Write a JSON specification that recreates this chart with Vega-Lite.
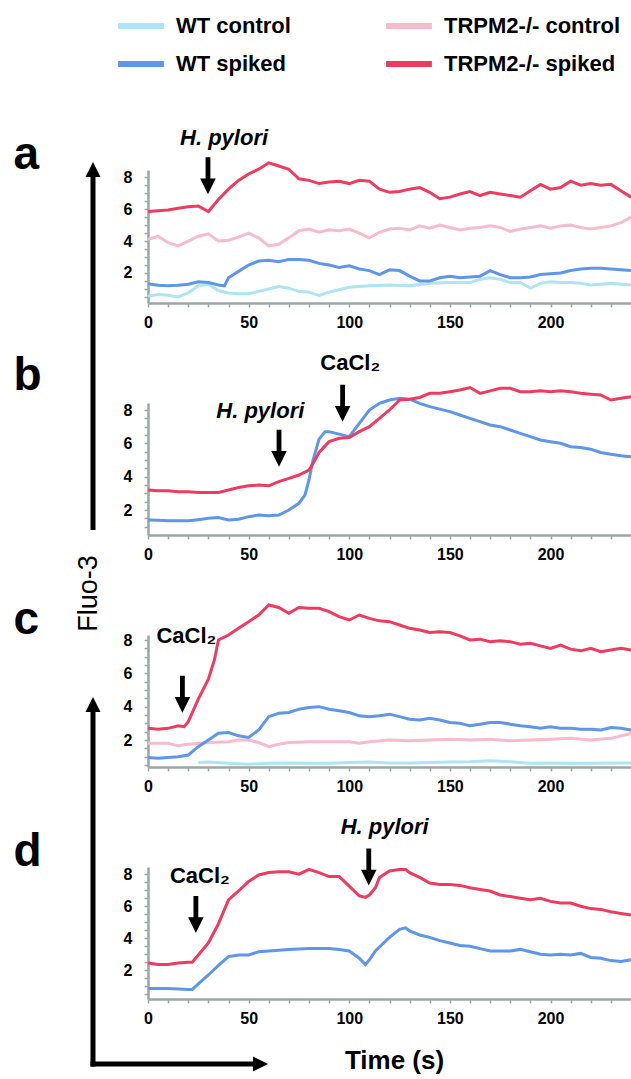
{
  "$schema": "https://vega.github.io/schema/vega-lite/v6.json",
  "padding": 0,
  "bounds": "flush",
  "spacing": 0,
  "config": {
    "font": "Liberation Sans",
    "view": {"stroke": null},
    "axis": {"grid": false, "domainColor": "#9da6a6", "domainWidth": 2.5, "tickColor": "#9da6a6", "tickWidth": 1.5, "tickSize": 4, "labelFont": "Liberation Sans", "labelFontSize": 16, "labelFontWeight": "bold", "labelColor": "#000", "labelOverlap": false, "labelFlush": false, "labelBound": false, "titleColor": "#000", "titleFont": "Liberation Sans"},
    "axisX": {"labelPadding": 7},
    "axisY": {"labelPadding": 12, "labelFontSize": 16, "titleAngle": 0, "titleFontSize": 46, "titleFontWeight": "bold", "titleX": -135, "titleY": -2, "titleAlign": "left", "titleBaseline": "alphabetic"}
  },
  "datasets": {
    "a": [
      {"s":"WT control","t":0,"v":0.55},{"s":"WT control","t":5,"v":0.65},{"s":"WT control","t":10,"v":0.6},{"s":"WT control","t":15,"v":0.5},{"s":"WT control","t":20,"v":0.75},{"s":"WT control","t":25,"v":1.2},{"s":"WT control","t":30,"v":1.3},{"s":"WT control","t":35,"v":0.9},{"s":"WT control","t":40,"v":0.75},{"s":"WT control","t":45,"v":0.7},{"s":"WT control","t":50,"v":0.7},{"s":"WT control","t":55,"v":0.85},{"s":"WT control","t":60,"v":1.0},{"s":"WT control","t":65,"v":1.15},{"s":"WT control","t":70,"v":1.05},{"s":"WT control","t":75,"v":0.85},{"s":"WT control","t":80,"v":0.8},{"s":"WT control","t":85,"v":0.6},{"s":"WT control","t":90,"v":0.8},{"s":"WT control","t":95,"v":0.95},{"s":"WT control","t":100,"v":1.1},{"s":"WT control","t":110,"v":1.2},{"s":"WT control","t":120,"v":1.25},{"s":"WT control","t":130,"v":1.2},{"s":"WT control","t":140,"v":1.35},{"s":"WT control","t":150,"v":1.4},{"s":"WT control","t":160,"v":1.4},{"s":"WT control","t":165,"v":1.6},{"s":"WT control","t":170,"v":1.7},{"s":"WT control","t":175,"v":1.6},{"s":"WT control","t":180,"v":1.4},{"s":"WT control","t":185,"v":1.4},{"s":"WT control","t":190,"v":1.05},{"s":"WT control","t":195,"v":1.35},{"s":"WT control","t":200,"v":1.45},{"s":"WT control","t":205,"v":1.4},{"s":"WT control","t":210,"v":1.4},{"s":"WT control","t":215,"v":1.35},{"s":"WT control","t":220,"v":1.25},{"s":"WT control","t":225,"v":1.3},{"s":"WT control","t":230,"v":1.35},{"s":"WT control","t":240,"v":1.25},
      {"s":"TRPM2-/- control","t":0,"v":4.1},{"s":"TRPM2-/- control","t":5,"v":4.3},{"s":"TRPM2-/- control","t":10,"v":3.9},{"s":"TRPM2-/- control","t":15,"v":3.7},{"s":"TRPM2-/- control","t":20,"v":4.0},{"s":"TRPM2-/- control","t":25,"v":4.3},{"s":"TRPM2-/- control","t":30,"v":4.45},{"s":"TRPM2-/- control","t":35,"v":4.0},{"s":"TRPM2-/- control","t":40,"v":4.05},{"s":"TRPM2-/- control","t":45,"v":4.25},{"s":"TRPM2-/- control","t":50,"v":4.5},{"s":"TRPM2-/- control","t":55,"v":4.2},{"s":"TRPM2-/- control","t":60,"v":3.7},{"s":"TRPM2-/- control","t":65,"v":3.8},{"s":"TRPM2-/- control","t":70,"v":4.2},{"s":"TRPM2-/- control","t":75,"v":4.65},{"s":"TRPM2-/- control","t":80,"v":4.75},{"s":"TRPM2-/- control","t":85,"v":4.55},{"s":"TRPM2-/- control","t":90,"v":4.7},{"s":"TRPM2-/- control","t":95,"v":4.65},{"s":"TRPM2-/- control","t":100,"v":4.75},{"s":"TRPM2-/- control","t":105,"v":4.5},{"s":"TRPM2-/- control","t":110,"v":4.2},{"s":"TRPM2-/- control","t":115,"v":4.55},{"s":"TRPM2-/- control","t":120,"v":4.75},{"s":"TRPM2-/- control","t":125,"v":4.8},{"s":"TRPM2-/- control","t":130,"v":4.7},{"s":"TRPM2-/- control","t":135,"v":4.95},{"s":"TRPM2-/- control","t":140,"v":4.8},{"s":"TRPM2-/- control","t":145,"v":5.0},{"s":"TRPM2-/- control","t":150,"v":4.85},{"s":"TRPM2-/- control","t":155,"v":4.7},{"s":"TRPM2-/- control","t":160,"v":4.8},{"s":"TRPM2-/- control","t":165,"v":4.85},{"s":"TRPM2-/- control","t":170,"v":4.95},{"s":"TRPM2-/- control","t":175,"v":4.85},{"s":"TRPM2-/- control","t":180,"v":4.6},{"s":"TRPM2-/- control","t":185,"v":4.75},{"s":"TRPM2-/- control","t":190,"v":4.85},{"s":"TRPM2-/- control","t":195,"v":4.95},{"s":"TRPM2-/- control","t":200,"v":4.8},{"s":"TRPM2-/- control","t":205,"v":4.95},{"s":"TRPM2-/- control","t":210,"v":5.0},{"s":"TRPM2-/- control","t":215,"v":4.85},{"s":"TRPM2-/- control","t":220,"v":4.75},{"s":"TRPM2-/- control","t":225,"v":4.85},{"s":"TRPM2-/- control","t":230,"v":4.95},{"s":"TRPM2-/- control","t":235,"v":5.15},{"s":"TRPM2-/- control","t":240,"v":5.5},
      {"s":"WT spiked","t":0,"v":1.33},{"s":"WT spiked","t":5,"v":1.23},{"s":"WT spiked","t":10,"v":1.2},{"s":"WT spiked","t":15,"v":1.23},{"s":"WT spiked","t":20,"v":1.3},{"s":"WT spiked","t":25,"v":1.45},{"s":"WT spiked","t":30,"v":1.4},{"s":"WT spiked","t":35,"v":1.25},{"s":"WT spiked","t":38,"v":1.2},{"s":"WT spiked","t":40,"v":1.7},{"s":"WT spiked","t":45,"v":2.1},{"s":"WT spiked","t":50,"v":2.5},{"s":"WT spiked","t":55,"v":2.75},{"s":"WT spiked","t":60,"v":2.8},{"s":"WT spiked","t":65,"v":2.7},{"s":"WT spiked","t":70,"v":2.85},{"s":"WT spiked","t":75,"v":2.85},{"s":"WT spiked","t":80,"v":2.8},{"s":"WT spiked","t":85,"v":2.6},{"s":"WT spiked","t":90,"v":2.5},{"s":"WT spiked","t":95,"v":2.35},{"s":"WT spiked","t":100,"v":2.45},{"s":"WT spiked","t":105,"v":2.25},{"s":"WT spiked","t":110,"v":2.15},{"s":"WT spiked","t":115,"v":1.9},{"s":"WT spiked","t":120,"v":2.2},{"s":"WT spiked","t":125,"v":2.15},{"s":"WT spiked","t":130,"v":1.8},{"s":"WT spiked","t":135,"v":1.5},{"s":"WT spiked","t":140,"v":1.5},{"s":"WT spiked","t":145,"v":1.7},{"s":"WT spiked","t":150,"v":1.8},{"s":"WT spiked","t":155,"v":1.7},{"s":"WT spiked","t":160,"v":1.75},{"s":"WT spiked","t":165,"v":1.8},{"s":"WT spiked","t":170,"v":2.15},{"s":"WT spiked","t":175,"v":1.9},{"s":"WT spiked","t":180,"v":1.7},{"s":"WT spiked","t":185,"v":1.7},{"s":"WT spiked","t":190,"v":1.75},{"s":"WT spiked","t":195,"v":1.9},{"s":"WT spiked","t":200,"v":1.95},{"s":"WT spiked","t":205,"v":2.0},{"s":"WT spiked","t":210,"v":2.15},{"s":"WT spiked","t":215,"v":2.25},{"s":"WT spiked","t":220,"v":2.3},{"s":"WT spiked","t":225,"v":2.3},{"s":"WT spiked","t":230,"v":2.25},{"s":"WT spiked","t":235,"v":2.2},{"s":"WT spiked","t":240,"v":2.15},
      {"s":"TRPM2-/- spiked","t":0,"v":5.85},{"s":"TRPM2-/- spiked","t":5,"v":5.9},{"s":"TRPM2-/- spiked","t":10,"v":5.95},{"s":"TRPM2-/- spiked","t":15,"v":6.05},{"s":"TRPM2-/- spiked","t":20,"v":6.15},{"s":"TRPM2-/- spiked","t":25,"v":6.2},{"s":"TRPM2-/- spiked","t":30,"v":5.85},{"s":"TRPM2-/- spiked","t":35,"v":6.6},{"s":"TRPM2-/- spiked","t":40,"v":7.25},{"s":"TRPM2-/- spiked","t":45,"v":7.8},{"s":"TRPM2-/- spiked","t":50,"v":8.2},{"s":"TRPM2-/- spiked","t":55,"v":8.5},{"s":"TRPM2-/- spiked","t":60,"v":8.9},{"s":"TRPM2-/- spiked","t":65,"v":8.7},{"s":"TRPM2-/- spiked","t":70,"v":8.5},{"s":"TRPM2-/- spiked","t":75,"v":7.9},{"s":"TRPM2-/- spiked","t":80,"v":7.8},{"s":"TRPM2-/- spiked","t":85,"v":7.6},{"s":"TRPM2-/- spiked","t":90,"v":7.7},{"s":"TRPM2-/- spiked","t":95,"v":7.75},{"s":"TRPM2-/- spiked","t":100,"v":7.6},{"s":"TRPM2-/- spiked","t":105,"v":7.8},{"s":"TRPM2-/- spiked","t":110,"v":7.75},{"s":"TRPM2-/- spiked","t":115,"v":7.25},{"s":"TRPM2-/- spiked","t":120,"v":7.05},{"s":"TRPM2-/- spiked","t":125,"v":7.1},{"s":"TRPM2-/- spiked","t":130,"v":7.25},{"s":"TRPM2-/- spiked","t":135,"v":7.35},{"s":"TRPM2-/- spiked","t":140,"v":7.05},{"s":"TRPM2-/- spiked","t":145,"v":6.65},{"s":"TRPM2-/- spiked","t":150,"v":6.75},{"s":"TRPM2-/- spiked","t":155,"v":6.95},{"s":"TRPM2-/- spiked","t":160,"v":7.1},{"s":"TRPM2-/- spiked","t":165,"v":6.85},{"s":"TRPM2-/- spiked","t":170,"v":7.05},{"s":"TRPM2-/- spiked","t":175,"v":6.95},{"s":"TRPM2-/- spiked","t":180,"v":6.85},{"s":"TRPM2-/- spiked","t":185,"v":6.75},{"s":"TRPM2-/- spiked","t":190,"v":7.15},{"s":"TRPM2-/- spiked","t":195,"v":7.55},{"s":"TRPM2-/- spiked","t":200,"v":7.25},{"s":"TRPM2-/- spiked","t":205,"v":7.35},{"s":"TRPM2-/- spiked","t":210,"v":7.75},{"s":"TRPM2-/- spiked","t":215,"v":7.5},{"s":"TRPM2-/- spiked","t":220,"v":7.6},{"s":"TRPM2-/- spiked","t":225,"v":7.5},{"s":"TRPM2-/- spiked","t":230,"v":7.55},{"s":"TRPM2-/- spiked","t":235,"v":7.15},{"s":"TRPM2-/- spiked","t":240,"v":6.75}
    ],
    "b": [
      {"s":"WT spiked","t":0,"v":1.4},{"s":"WT spiked","t":5,"v":1.38},{"s":"WT spiked","t":10,"v":1.35},{"s":"WT spiked","t":15,"v":1.35},{"s":"WT spiked","t":20,"v":1.35},{"s":"WT spiked","t":25,"v":1.42},{"s":"WT spiked","t":30,"v":1.5},{"s":"WT spiked","t":35,"v":1.55},{"s":"WT spiked","t":40,"v":1.4},{"s":"WT spiked","t":45,"v":1.45},{"s":"WT spiked","t":50,"v":1.6},{"s":"WT spiked","t":55,"v":1.7},{"s":"WT spiked","t":60,"v":1.65},{"s":"WT spiked","t":65,"v":1.7},{"s":"WT spiked","t":70,"v":2.0},{"s":"WT spiked","t":75,"v":2.4},{"s":"WT spiked","t":78,"v":2.9},{"s":"WT spiked","t":80,"v":3.8},{"s":"WT spiked","t":82,"v":5.0},{"s":"WT spiked","t":85,"v":6.25},{"s":"WT spiked","t":88,"v":6.7},{"s":"WT spiked","t":90,"v":6.7},{"s":"WT spiked","t":95,"v":6.55},{"s":"WT spiked","t":100,"v":6.4},{"s":"WT spiked","t":105,"v":7.2},{"s":"WT spiked","t":110,"v":8.0},{"s":"WT spiked","t":115,"v":8.4},{"s":"WT spiked","t":120,"v":8.6},{"s":"WT spiked","t":125,"v":8.7},{"s":"WT spiked","t":130,"v":8.65},{"s":"WT spiked","t":135,"v":8.4},{"s":"WT spiked","t":140,"v":8.2},{"s":"WT spiked","t":145,"v":8.05},{"s":"WT spiked","t":150,"v":7.9},{"s":"WT spiked","t":155,"v":7.7},{"s":"WT spiked","t":160,"v":7.5},{"s":"WT spiked","t":165,"v":7.3},{"s":"WT spiked","t":170,"v":7.1},{"s":"WT spiked","t":175,"v":7.0},{"s":"WT spiked","t":180,"v":6.8},{"s":"WT spiked","t":185,"v":6.6},{"s":"WT spiked","t":190,"v":6.4},{"s":"WT spiked","t":195,"v":6.2},{"s":"WT spiked","t":200,"v":6.1},{"s":"WT spiked","t":205,"v":6.0},{"s":"WT spiked","t":210,"v":5.8},{"s":"WT spiked","t":215,"v":5.75},{"s":"WT spiked","t":220,"v":5.65},{"s":"WT spiked","t":225,"v":5.45},{"s":"WT spiked","t":230,"v":5.35},{"s":"WT spiked","t":235,"v":5.25},{"s":"WT spiked","t":240,"v":5.2},
      {"s":"TRPM2-/- spiked","t":0,"v":3.2},{"s":"TRPM2-/- spiked","t":5,"v":3.15},{"s":"TRPM2-/- spiked","t":10,"v":3.15},{"s":"TRPM2-/- spiked","t":15,"v":3.1},{"s":"TRPM2-/- spiked","t":20,"v":3.1},{"s":"TRPM2-/- spiked","t":25,"v":3.05},{"s":"TRPM2-/- spiked","t":30,"v":3.05},{"s":"TRPM2-/- spiked","t":35,"v":3.05},{"s":"TRPM2-/- spiked","t":40,"v":3.2},{"s":"TRPM2-/- spiked","t":45,"v":3.35},{"s":"TRPM2-/- spiked","t":50,"v":3.45},{"s":"TRPM2-/- spiked","t":55,"v":3.5},{"s":"TRPM2-/- spiked","t":60,"v":3.45},{"s":"TRPM2-/- spiked","t":65,"v":3.7},{"s":"TRPM2-/- spiked","t":70,"v":3.9},{"s":"TRPM2-/- spiked","t":75,"v":4.1},{"s":"TRPM2-/- spiked","t":80,"v":4.4},{"s":"TRPM2-/- spiked","t":83,"v":5.0},{"s":"TRPM2-/- spiked","t":85,"v":5.45},{"s":"TRPM2-/- spiked","t":90,"v":6.1},{"s":"TRPM2-/- spiked","t":95,"v":6.3},{"s":"TRPM2-/- spiked","t":100,"v":6.35},{"s":"TRPM2-/- spiked","t":105,"v":6.7},{"s":"TRPM2-/- spiked","t":110,"v":7.0},{"s":"TRPM2-/- spiked","t":115,"v":7.5},{"s":"TRPM2-/- spiked","t":120,"v":8.0},{"s":"TRPM2-/- spiked","t":125,"v":8.6},{"s":"TRPM2-/- spiked","t":130,"v":8.65},{"s":"TRPM2-/- spiked","t":135,"v":8.75},{"s":"TRPM2-/- spiked","t":140,"v":9.0},{"s":"TRPM2-/- spiked","t":145,"v":9.0},{"s":"TRPM2-/- spiked","t":150,"v":9.1},{"s":"TRPM2-/- spiked","t":155,"v":9.2},{"s":"TRPM2-/- spiked","t":160,"v":9.35},{"s":"TRPM2-/- spiked","t":165,"v":9.0},{"s":"TRPM2-/- spiked","t":170,"v":9.15},{"s":"TRPM2-/- spiked","t":175,"v":9.3},{"s":"TRPM2-/- spiked","t":180,"v":9.3},{"s":"TRPM2-/- spiked","t":185,"v":9.1},{"s":"TRPM2-/- spiked","t":190,"v":9.1},{"s":"TRPM2-/- spiked","t":195,"v":9.15},{"s":"TRPM2-/- spiked","t":200,"v":9.1},{"s":"TRPM2-/- spiked","t":205,"v":9.15},{"s":"TRPM2-/- spiked","t":210,"v":9.1},{"s":"TRPM2-/- spiked","t":215,"v":9.0},{"s":"TRPM2-/- spiked","t":220,"v":8.95},{"s":"TRPM2-/- spiked","t":225,"v":8.9},{"s":"TRPM2-/- spiked","t":230,"v":8.6},{"s":"TRPM2-/- spiked","t":235,"v":8.7},{"s":"TRPM2-/- spiked","t":240,"v":8.8}
    ],
    "c": [
      {"s":"WT control","t":25,"v":0.65},{"s":"WT control","t":30,"v":0.68},{"s":"WT control","t":40,"v":0.6},{"s":"WT control","t":50,"v":0.55},{"s":"WT control","t":60,"v":0.6},{"s":"WT control","t":70,"v":0.62},{"s":"WT control","t":80,"v":0.6},{"s":"WT control","t":90,"v":0.6},{"s":"WT control","t":100,"v":0.65},{"s":"WT control","t":110,"v":0.68},{"s":"WT control","t":120,"v":0.62},{"s":"WT control","t":130,"v":0.62},{"s":"WT control","t":140,"v":0.65},{"s":"WT control","t":150,"v":0.68},{"s":"WT control","t":160,"v":0.7},{"s":"WT control","t":170,"v":0.75},{"s":"WT control","t":180,"v":0.7},{"s":"WT control","t":190,"v":0.6},{"s":"WT control","t":200,"v":0.62},{"s":"WT control","t":210,"v":0.6},{"s":"WT control","t":220,"v":0.6},{"s":"WT control","t":230,"v":0.62},{"s":"WT control","t":240,"v":0.62},
      {"s":"TRPM2-/- control","t":0,"v":1.8},{"s":"TRPM2-/- control","t":10,"v":1.8},{"s":"TRPM2-/- control","t":15,"v":1.65},{"s":"TRPM2-/- control","t":20,"v":1.75},{"s":"TRPM2-/- control","t":30,"v":1.85},{"s":"TRPM2-/- control","t":40,"v":1.9},{"s":"TRPM2-/- control","t":45,"v":2.0},{"s":"TRPM2-/- control","t":50,"v":2.0},{"s":"TRPM2-/- control","t":55,"v":1.85},{"s":"TRPM2-/- control","t":60,"v":1.6},{"s":"TRPM2-/- control","t":65,"v":1.75},{"s":"TRPM2-/- control","t":70,"v":1.85},{"s":"TRPM2-/- control","t":80,"v":1.9},{"s":"TRPM2-/- control","t":90,"v":1.9},{"s":"TRPM2-/- control","t":100,"v":1.9},{"s":"TRPM2-/- control","t":105,"v":1.8},{"s":"TRPM2-/- control","t":110,"v":1.9},{"s":"TRPM2-/- control","t":120,"v":2.0},{"s":"TRPM2-/- control","t":130,"v":1.95},{"s":"TRPM2-/- control","t":140,"v":2.0},{"s":"TRPM2-/- control","t":150,"v":2.05},{"s":"TRPM2-/- control","t":160,"v":2.0},{"s":"TRPM2-/- control","t":170,"v":2.05},{"s":"TRPM2-/- control","t":180,"v":1.95},{"s":"TRPM2-/- control","t":190,"v":2.0},{"s":"TRPM2-/- control","t":200,"v":2.05},{"s":"TRPM2-/- control","t":210,"v":2.1},{"s":"TRPM2-/- control","t":220,"v":2.0},{"s":"TRPM2-/- control","t":230,"v":2.1},{"s":"TRPM2-/- control","t":240,"v":2.4},
      {"s":"WT spiked","t":0,"v":0.95},{"s":"WT spiked","t":5,"v":0.9},{"s":"WT spiked","t":10,"v":0.95},{"s":"WT spiked","t":15,"v":1.0},{"s":"WT spiked","t":20,"v":1.1},{"s":"WT spiked","t":25,"v":1.6},{"s":"WT spiked","t":30,"v":2.0},{"s":"WT spiked","t":35,"v":2.4},{"s":"WT spiked","t":40,"v":2.45},{"s":"WT spiked","t":45,"v":2.25},{"s":"WT spiked","t":50,"v":2.15},{"s":"WT spiked","t":55,"v":2.6},{"s":"WT spiked","t":60,"v":3.4},{"s":"WT spiked","t":65,"v":3.6},{"s":"WT spiked","t":70,"v":3.65},{"s":"WT spiked","t":75,"v":3.85},{"s":"WT spiked","t":80,"v":3.95},{"s":"WT spiked","t":85,"v":4.0},{"s":"WT spiked","t":90,"v":3.85},{"s":"WT spiked","t":95,"v":3.75},{"s":"WT spiked","t":100,"v":3.65},{"s":"WT spiked","t":105,"v":3.45},{"s":"WT spiked","t":110,"v":3.4},{"s":"WT spiked","t":115,"v":3.45},{"s":"WT spiked","t":120,"v":3.55},{"s":"WT spiked","t":125,"v":3.4},{"s":"WT spiked","t":130,"v":3.25},{"s":"WT spiked","t":135,"v":3.2},{"s":"WT spiked","t":140,"v":3.3},{"s":"WT spiked","t":145,"v":3.2},{"s":"WT spiked","t":150,"v":3.05},{"s":"WT spiked","t":155,"v":3.0},{"s":"WT spiked","t":160,"v":2.85},{"s":"WT spiked","t":165,"v":2.95},{"s":"WT spiked","t":170,"v":3.05},{"s":"WT spiked","t":175,"v":3.05},{"s":"WT spiked","t":180,"v":2.95},{"s":"WT spiked","t":185,"v":2.85},{"s":"WT spiked","t":190,"v":2.8},{"s":"WT spiked","t":195,"v":2.7},{"s":"WT spiked","t":200,"v":2.8},{"s":"WT spiked","t":205,"v":2.7},{"s":"WT spiked","t":210,"v":2.7},{"s":"WT spiked","t":215,"v":2.65},{"s":"WT spiked","t":220,"v":2.65},{"s":"WT spiked","t":225,"v":2.6},{"s":"WT spiked","t":230,"v":2.75},{"s":"WT spiked","t":235,"v":2.7},{"s":"WT spiked","t":240,"v":2.6},
      {"s":"TRPM2-/- spiked","t":0,"v":2.7},{"s":"TRPM2-/- spiked","t":5,"v":2.65},{"s":"TRPM2-/- spiked","t":10,"v":2.7},{"s":"TRPM2-/- spiked","t":15,"v":2.85},{"s":"TRPM2-/- spiked","t":18,"v":2.8},{"s":"TRPM2-/- spiked","t":20,"v":3.1},{"s":"TRPM2-/- spiked","t":25,"v":4.45},{"s":"TRPM2-/- spiked","t":30,"v":5.65},{"s":"TRPM2-/- spiked","t":33,"v":6.8},{"s":"TRPM2-/- spiked","t":35,"v":8.0},{"s":"TRPM2-/- spiked","t":40,"v":8.3},{"s":"TRPM2-/- spiked","t":45,"v":8.7},{"s":"TRPM2-/- spiked","t":50,"v":9.1},{"s":"TRPM2-/- spiked","t":55,"v":9.5},{"s":"TRPM2-/- spiked","t":60,"v":10.1},{"s":"TRPM2-/- spiked","t":65,"v":9.95},{"s":"TRPM2-/- spiked","t":70,"v":9.6},{"s":"TRPM2-/- spiked","t":75,"v":9.95},{"s":"TRPM2-/- spiked","t":80,"v":9.9},{"s":"TRPM2-/- spiked","t":85,"v":9.9},{"s":"TRPM2-/- spiked","t":90,"v":9.7},{"s":"TRPM2-/- spiked","t":95,"v":9.4},{"s":"TRPM2-/- spiked","t":100,"v":9.2},{"s":"TRPM2-/- spiked","t":105,"v":9.5},{"s":"TRPM2-/- spiked","t":110,"v":9.3},{"s":"TRPM2-/- spiked","t":115,"v":9.15},{"s":"TRPM2-/- spiked","t":120,"v":9.1},{"s":"TRPM2-/- spiked","t":125,"v":8.9},{"s":"TRPM2-/- spiked","t":130,"v":8.7},{"s":"TRPM2-/- spiked","t":135,"v":8.6},{"s":"TRPM2-/- spiked","t":140,"v":8.45},{"s":"TRPM2-/- spiked","t":145,"v":8.5},{"s":"TRPM2-/- spiked","t":150,"v":8.45},{"s":"TRPM2-/- spiked","t":155,"v":8.25},{"s":"TRPM2-/- spiked","t":160,"v":8.0},{"s":"TRPM2-/- spiked","t":165,"v":8.05},{"s":"TRPM2-/- spiked","t":170,"v":7.9},{"s":"TRPM2-/- spiked","t":175,"v":7.95},{"s":"TRPM2-/- spiked","t":180,"v":7.9},{"s":"TRPM2-/- spiked","t":185,"v":7.75},{"s":"TRPM2-/- spiked","t":190,"v":7.8},{"s":"TRPM2-/- spiked","t":195,"v":7.65},{"s":"TRPM2-/- spiked","t":200,"v":7.5},{"s":"TRPM2-/- spiked","t":205,"v":7.7},{"s":"TRPM2-/- spiked","t":210,"v":7.45},{"s":"TRPM2-/- spiked","t":215,"v":7.35},{"s":"TRPM2-/- spiked","t":220,"v":7.5},{"s":"TRPM2-/- spiked","t":225,"v":7.3},{"s":"TRPM2-/- spiked","t":230,"v":7.4},{"s":"TRPM2-/- spiked","t":235,"v":7.5},{"s":"TRPM2-/- spiked","t":240,"v":7.4}
    ],
    "d": [
      {"s":"WT spiked","t":0,"v":0.85},{"s":"WT spiked","t":10,"v":0.85},{"s":"WT spiked","t":20,"v":0.8},{"s":"WT spiked","t":22,"v":0.8},{"s":"WT spiked","t":25,"v":1.15},{"s":"WT spiked","t":30,"v":1.7},{"s":"WT spiked","t":35,"v":2.3},{"s":"WT spiked","t":40,"v":2.85},{"s":"WT spiked","t":45,"v":2.95},{"s":"WT spiked","t":50,"v":2.95},{"s":"WT spiked","t":55,"v":3.15},{"s":"WT spiked","t":60,"v":3.2},{"s":"WT spiked","t":70,"v":3.3},{"s":"WT spiked","t":80,"v":3.35},{"s":"WT spiked","t":90,"v":3.35},{"s":"WT spiked","t":95,"v":3.3},{"s":"WT spiked","t":100,"v":3.2},{"s":"WT spiked","t":105,"v":2.75},{"s":"WT spiked","t":108,"v":2.35},{"s":"WT spiked","t":110,"v":2.65},{"s":"WT spiked","t":113,"v":3.2},{"s":"WT spiked","t":120,"v":4.05},{"s":"WT spiked","t":125,"v":4.55},{"s":"WT spiked","t":128,"v":4.65},{"s":"WT spiked","t":130,"v":4.45},{"s":"WT spiked","t":135,"v":4.2},{"s":"WT spiked","t":140,"v":4.05},{"s":"WT spiked","t":145,"v":3.85},{"s":"WT spiked","t":150,"v":3.7},{"s":"WT spiked","t":155,"v":3.55},{"s":"WT spiked","t":160,"v":3.5},{"s":"WT spiked","t":165,"v":3.35},{"s":"WT spiked","t":170,"v":3.2},{"s":"WT spiked","t":175,"v":3.2},{"s":"WT spiked","t":180,"v":3.2},{"s":"WT spiked","t":185,"v":3.3},{"s":"WT spiked","t":190,"v":3.15},{"s":"WT spiked","t":195,"v":3.0},{"s":"WT spiked","t":200,"v":2.95},{"s":"WT spiked","t":205,"v":3.0},{"s":"WT spiked","t":210,"v":2.95},{"s":"WT spiked","t":215,"v":3.05},{"s":"WT spiked","t":220,"v":2.8},{"s":"WT spiked","t":225,"v":2.75},{"s":"WT spiked","t":230,"v":2.6},{"s":"WT spiked","t":235,"v":2.55},{"s":"WT spiked","t":240,"v":2.65},
      {"s":"TRPM2-/- spiked","t":0,"v":2.45},{"s":"TRPM2-/- spiked","t":5,"v":2.35},{"s":"TRPM2-/- spiked","t":10,"v":2.35},{"s":"TRPM2-/- spiked","t":15,"v":2.45},{"s":"TRPM2-/- spiked","t":20,"v":2.5},{"s":"TRPM2-/- spiked","t":22,"v":2.5},{"s":"TRPM2-/- spiked","t":25,"v":2.95},{"s":"TRPM2-/- spiked","t":30,"v":3.7},{"s":"TRPM2-/- spiked","t":35,"v":4.9},{"s":"TRPM2-/- spiked","t":40,"v":6.4},{"s":"TRPM2-/- spiked","t":45,"v":6.95},{"s":"TRPM2-/- spiked","t":50,"v":7.55},{"s":"TRPM2-/- spiked","t":55,"v":7.95},{"s":"TRPM2-/- spiked","t":60,"v":8.1},{"s":"TRPM2-/- spiked","t":65,"v":8.15},{"s":"TRPM2-/- spiked","t":70,"v":8.15},{"s":"TRPM2-/- spiked","t":75,"v":8.0},{"s":"TRPM2-/- spiked","t":80,"v":8.3},{"s":"TRPM2-/- spiked","t":85,"v":8.1},{"s":"TRPM2-/- spiked","t":90,"v":7.85},{"s":"TRPM2-/- spiked","t":95,"v":7.85},{"s":"TRPM2-/- spiked","t":100,"v":7.25},{"s":"TRPM2-/- spiked","t":105,"v":6.65},{"s":"TRPM2-/- spiked","t":108,"v":6.55},{"s":"TRPM2-/- spiked","t":110,"v":6.7},{"s":"TRPM2-/- spiked","t":113,"v":7.15},{"s":"TRPM2-/- spiked","t":115,"v":7.8},{"s":"TRPM2-/- spiked","t":120,"v":8.2},{"s":"TRPM2-/- spiked","t":125,"v":8.3},{"s":"TRPM2-/- spiked","t":128,"v":8.3},{"s":"TRPM2-/- spiked","t":130,"v":8.1},{"s":"TRPM2-/- spiked","t":135,"v":7.8},{"s":"TRPM2-/- spiked","t":140,"v":7.45},{"s":"TRPM2-/- spiked","t":145,"v":7.35},{"s":"TRPM2-/- spiked","t":150,"v":7.35},{"s":"TRPM2-/- spiked","t":155,"v":7.3},{"s":"TRPM2-/- spiked","t":160,"v":7.15},{"s":"TRPM2-/- spiked","t":165,"v":7.05},{"s":"TRPM2-/- spiked","t":170,"v":6.95},{"s":"TRPM2-/- spiked","t":175,"v":6.7},{"s":"TRPM2-/- spiked","t":180,"v":6.6},{"s":"TRPM2-/- spiked","t":185,"v":6.5},{"s":"TRPM2-/- spiked","t":190,"v":6.4},{"s":"TRPM2-/- spiked","t":195,"v":6.5},{"s":"TRPM2-/- spiked","t":200,"v":6.3},{"s":"TRPM2-/- spiked","t":205,"v":6.2},{"s":"TRPM2-/- spiked","t":210,"v":6.2},{"s":"TRPM2-/- spiked","t":215,"v":6.0},{"s":"TRPM2-/- spiked","t":220,"v":5.85},{"s":"TRPM2-/- spiked","t":225,"v":5.8},{"s":"TRPM2-/- spiked","t":230,"v":5.65},{"s":"TRPM2-/- spiked","t":235,"v":5.55},{"s":"TRPM2-/- spiked","t":240,"v":5.45}
    ],
    "arrows": [
      {"panel":"a","t":29.8,"v":8.09},
      {"panel":"b","t":65.1,"v":5.71},
      {"panel":"b","t":96.7,"v":8.4},
      {"panel":"c","t":17.1,"v":4.74},
      {"panel":"d","t":23.8,"v":5.48},
      {"panel":"d","t":109.7,"v":8.45}
    ],
    "hp": [
      {"panel":"a","t":37.8,"v":10.0,"label":"H. pylori"},
      {"panel":"b","t":55.8,"v":7.54,"label":"H. pylori"},
      {"panel":"d","t":117.6,"v":10.51,"label":"H. pylori"}
    ],
    "ca": [
      {"panel":"b","t":100.5,"v":10.38,"label":"CaCl₂"},
      {"panel":"c","t":19.1,"v":7.84,"label":"CaCl₂"},
      {"panel":"d","t":25.8,"v":7.45,"label":"CaCl₂"}
    ]
  },
  "hconcat": [
    {
      "width": 148,
      "height": 1079,
      "data": {"values": [{}]},
      "layer": [
        {"mark": {"type": "rule", "strokeWidth": 5, "color": "black"},
         "encoding": {
           "x": {"datum": 93, "type": "quantitative", "scale": {"domain": [0, 148], "nice": false, "zero": false}, "axis": null},
           "y": {"datum": 176, "type": "quantitative", "scale": {"domain": [0, 1079], "reverse": true, "nice": false, "zero": false}, "axis": null},
           "y2": {"datum": 530}}},
        {"mark": {"type": "rule", "strokeWidth": 5, "color": "black"},
         "encoding": {
           "x": {"datum": 93, "type": "quantitative", "scale": {"domain": [0, 148], "nice": false, "zero": false}, "axis": null},
           "y": {"datum": 711, "type": "quantitative", "scale": {"domain": [0, 1079], "reverse": true, "nice": false, "zero": false}, "axis": null},
           "y2": {"datum": 1066.5}}},
        {"mark": {"type": "rule", "strokeWidth": 5, "color": "black"},
         "encoding": {
           "x": {"datum": 90.5, "type": "quantitative", "scale": {"domain": [0, 148], "nice": false, "zero": false}, "axis": null},
           "x2": {"datum": 256},
           "y": {"datum": 1064, "type": "quantitative", "scale": {"domain": [0, 1079], "reverse": true, "nice": false, "zero": false}, "axis": null}}},
        {"mark": {"type": "point", "shape": "M0,-1L1,1L-1,1Z", "filled": true, "fill": "black", "opacity": 1, "size": 225, "strokeWidth": 0},
         "encoding": {
           "x": {"datum": 93, "type": "quantitative", "scale": {"domain": [0, 148], "nice": false, "zero": false}, "axis": null},
           "y": {"datum": 169.5, "type": "quantitative", "scale": {"domain": [0, 1079], "reverse": true, "nice": false, "zero": false}, "axis": null}}},
        {"mark": {"type": "point", "shape": "M0,-1L1,1L-1,1Z", "filled": true, "fill": "black", "opacity": 1, "size": 225, "strokeWidth": 0},
         "encoding": {
           "x": {"datum": 93, "type": "quantitative", "scale": {"domain": [0, 148], "nice": false, "zero": false}, "axis": null},
           "y": {"datum": 704.5, "type": "quantitative", "scale": {"domain": [0, 1079], "reverse": true, "nice": false, "zero": false}, "axis": null}}},
        {"mark": {"type": "point", "shape": "M1,0L-1,-1L-1,1Z", "filled": true, "fill": "black", "opacity": 1, "size": 225, "strokeWidth": 0},
         "encoding": {
           "x": {"datum": 260.5, "type": "quantitative", "scale": {"domain": [0, 148], "nice": false, "zero": false}, "axis": null},
           "y": {"datum": 1064, "type": "quantitative", "scale": {"domain": [0, 1079], "reverse": true, "nice": false, "zero": false}, "axis": null}}}
      ]
    },
    {
      "spacing": 100,
      "bounds": "flush",
      "vconcat": [
        {"width": 483, "height": 70, "data": {"values": []}, "mark": "point"},
        {
          "width": 483, "height": 133,
          "encoding": {
            "x": {"field": "t", "type": "quantitative", "scale": {"domain": [0, 240], "nice": false, "zero": false},
                  "axis": {"title": null, "values": [0,10,20,30,40,50,60,70,80,90,100,110,120,130,140,150,160,170,180,190,200,210,220,230,240], "labelExpr": "datum.value % 50 === 0 ? datum.label : ''"}},
            "y": {"field": "v", "type": "quantitative", "scale": {"domain": [0.12, 8.45], "nice": false, "zero": false},
                  "axis": {"title": "a", "values": [0.5,1,1.5,2,2.5,3,3.5,4,4.5,5,5.5,6,6.5,7,7.5,8], "labelExpr": "datum.value % 2 === 0 ? '' + datum.value : ''"}}
          },
          "layer": [
            {"data": {"name": "a"}, "mark": {"type": "line", "strokeWidth": 3},
             "encoding": {"color": {"field": "s", "type": "nominal",
               "scale": {"domain": ["WT control", "WT spiked", "TRPM2-/- control", "TRPM2-/- spiked"], "range": ["#aee4f4", "#5e96e8", "#f6bccb", "#ee3b60"]},
               "legend": {"title": null, "orient": "none", "legendX": 115, "legendY": 0, "columns": 2, "symbolType": "stroke", "symbolSize": 2100, "symbolStrokeWidth": 6, "labelFontSize": 22, "labelFontWeight": "bold", "labelColor": "black", "labelOffset": 9, "columnPadding": 83, "rowPadding": -6, "labelLimit": 400, "padding": 0}}}},
            {"data": {"name": "arrows"}, "transform": [{"filter": "datum.panel === 'a'"}],
             "mark": {"type": "point", "shape": "M-0.13,-1L0.13,-1L0.13,0.15L0.42,0.15L0,1L-0.42,0.15L-0.13,0.15Z", "filled": true, "fill": "black", "opacity": 1, "size": 1369, "strokeWidth": 0}},
            {"data": {"name": "hp"}, "transform": [{"filter": "datum.panel === 'a'"}],
             "mark": {"type": "text", "fontSize": 22, "fontWeight": "bold", "fontStyle": "italic", "align": "center", "baseline": "alphabetic", "color": "black"},
             "encoding": {"text": {"field": "label"}}}
          ]
        },
        {
          "width": 483, "height": 132,
          "encoding": {
            "x": {"field": "t", "type": "quantitative", "scale": {"domain": [0, 240], "nice": false, "zero": false},
                  "axis": {"title": "Fluo-3", "titleAngle": 270, "titleX": -60, "titleY": 58, "titleFontSize": 27, "titleFontWeight": "normal", "titleAlign": "center", "titleBaseline": "middle", "values": [0,10,20,30,40,50,60,70,80,90,100,110,120,130,140,150,160,170,180,190,200,210,220,230,240], "labelExpr": "datum.value % 50 === 0 ? datum.label : ''"}},
            "y": {"field": "v", "type": "quantitative", "scale": {"domain": [0.5, 8.42], "nice": false, "zero": false},
                  "axis": {"title": "b", "titleY": -14, "values": [1,1.5,2,2.5,3,3.5,4,4.5,5,5.5,6,6.5,7,7.5,8], "labelExpr": "datum.value % 2 === 0 ? '' + datum.value : ''"}}
          },
          "layer": [
            {"data": {"name": "b"}, "mark": {"type": "line", "strokeWidth": 3},
             "encoding": {"color": {"field": "s", "type": "nominal",
               "scale": {"domain": ["WT control", "WT spiked", "TRPM2-/- control", "TRPM2-/- spiked"], "range": ["#aee4f4", "#5e96e8", "#f6bccb", "#ee3b60"]}}}},
            {"data": {"name": "arrows"}, "transform": [{"filter": "datum.panel === 'b'"}],
             "mark": {"type": "point", "shape": "M-0.13,-1L0.13,-1L0.13,0.15L0.42,0.15L0,1L-0.42,0.15L-0.13,0.15Z", "filled": true, "fill": "black", "opacity": 1, "size": 1369, "strokeWidth": 0}},
            {"data": {"name": "hp"}, "transform": [{"filter": "datum.panel === 'b'"}],
             "mark": {"type": "text", "fontSize": 22, "fontWeight": "bold", "fontStyle": "italic", "align": "center", "baseline": "alphabetic", "color": "black"},
             "encoding": {"text": {"field": "label"}}},
            {"data": {"name": "ca"}, "transform": [{"filter": "datum.panel === 'b'"}],
             "mark": {"type": "text", "fontSize": 22, "fontWeight": "bold", "align": "center", "baseline": "alphabetic", "color": "black"},
             "encoding": {"text": {"field": "label"}}}
          ]
        },
        {
          "width": 483, "height": 132,
          "encoding": {
            "x": {"field": "t", "type": "quantitative", "scale": {"domain": [0, 240], "nice": false, "zero": false},
                  "axis": {"title": null, "values": [0,10,20,30,40,50,60,70,80,90,100,110,120,130,140,150,160,170,180,190,200,210,220,230,240], "labelExpr": "datum.value % 50 === 0 ? datum.label : ''"}},
            "y": {"field": "v", "type": "quantitative", "scale": {"domain": [0.38, 8.3], "nice": false, "zero": false},
                  "axis": {"title": "c", "values": [0.5,1,1.5,2,2.5,3,3.5,4,4.5,5,5.5,6,6.5,7,7.5,8], "labelExpr": "datum.value % 2 === 0 ? '' + datum.value : ''"}}
          },
          "layer": [
            {"data": {"name": "c"}, "mark": {"type": "line", "strokeWidth": 3},
             "encoding": {"color": {"field": "s", "type": "nominal",
               "scale": {"domain": ["WT control", "WT spiked", "TRPM2-/- control", "TRPM2-/- spiked"], "range": ["#aee4f4", "#5e96e8", "#f6bccb", "#ee3b60"]}}}},
            {"data": {"name": "arrows"}, "transform": [{"filter": "datum.panel === 'c'"}],
             "mark": {"type": "point", "shape": "M-0.13,-1L0.13,-1L0.13,0.15L0.42,0.15L0,1L-0.42,0.15L-0.13,0.15Z", "filled": true, "fill": "black", "opacity": 1, "size": 1369, "strokeWidth": 0}},
            {"data": {"name": "ca"}, "transform": [{"filter": "datum.panel === 'c'"}],
             "mark": {"type": "text", "fontSize": 22, "fontWeight": "bold", "align": "center", "baseline": "alphabetic", "color": "black"},
             "encoding": {"text": {"field": "label"}}}
          ]
        },
        {
          "width": 483, "height": 132,
          "encoding": {
            "x": {"field": "t", "type": "quantitative", "scale": {"domain": [0, 240], "nice": false, "zero": false},
                  "axis": {"title": "Time (s)", "titleFontSize": 26, "titleFontWeight": "bold", "titleX": 246, "titleY": 61, "titleBaseline": "middle", "titleAlign": "center", "values": [0,10,20,30,40,50,60,70,80,90,100,110,120,130,140,150,160,170,180,190,200,210,220,230,240], "labelExpr": "datum.value % 50 === 0 ? datum.label : ''"}},
            "y": {"field": "v", "type": "quantitative", "scale": {"domain": [0.2, 8.45], "nice": false, "zero": false},
                  "axis": {"title": "d", "values": [0.5,1,1.5,2,2.5,3,3.5,4,4.5,5,5.5,6,6.5,7,7.5,8], "labelExpr": "datum.value % 2 === 0 ? '' + datum.value : ''"}}
          },
          "layer": [
            {"data": {"name": "d"}, "mark": {"type": "line", "strokeWidth": 3},
             "encoding": {"color": {"field": "s", "type": "nominal",
               "scale": {"domain": ["WT control", "WT spiked", "TRPM2-/- control", "TRPM2-/- spiked"], "range": ["#aee4f4", "#5e96e8", "#f6bccb", "#ee3b60"]}}}},
            {"data": {"name": "arrows"}, "transform": [{"filter": "datum.panel === 'd'"}],
             "mark": {"type": "point", "shape": "M-0.13,-1L0.13,-1L0.13,0.15L0.42,0.15L0,1L-0.42,0.15L-0.13,0.15Z", "filled": true, "fill": "black", "opacity": 1, "size": 1369, "strokeWidth": 0}},
            {"data": {"name": "hp"}, "transform": [{"filter": "datum.panel === 'd'"}],
             "mark": {"type": "text", "fontSize": 22, "fontWeight": "bold", "fontStyle": "italic", "align": "center", "baseline": "alphabetic", "color": "black"},
             "encoding": {"text": {"field": "label"}}},
            {"data": {"name": "ca"}, "transform": [{"filter": "datum.panel === 'd'"}],
             "mark": {"type": "text", "fontSize": 22, "fontWeight": "bold", "align": "center", "baseline": "alphabetic", "color": "black"},
             "encoding": {"text": {"field": "label"}}}
          ]
        }
      ]
    }
  ]
}
